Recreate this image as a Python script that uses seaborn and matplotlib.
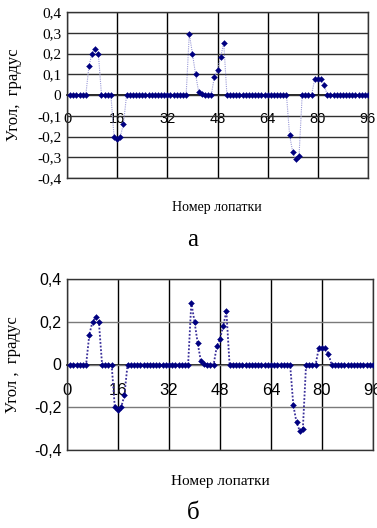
import matplotlib
matplotlib.use("Agg")
import matplotlib.pyplot as plt
import numpy as np
import pandas as pd
import seaborn as sns

# ---------------- data ----------------
blade = list(range(1, 97))  # blade numbers 1..96

angle_a = [
    0, 0, 0, 0, 0, 0, 0.14, 0.20, 0.22, 0.20, 0, 0, 0, 0, -0.20, -0.21,
    -0.20, -0.14, 0, 0, 0, 0, 0, 0, 0, 0, 0, 0, 0, 0, 0, 0,
    0, 0, 0, 0, 0, 0, 0.295, 0.20, 0.10, 0.015, 0.003, 0, 0, 0, 0.088, 0.12,
    0.183, 0.25, 0, 0, 0, 0, 0, 0, 0, 0, 0, 0, 0, 0, 0, 0,
    0, 0, 0, 0, 0, 0, -0.195, -0.275, -0.31, -0.295, 0, 0, 0, 0, 0.077, 0.077,
    0.077, 0.05, 0, 0, 0, 0, 0, 0, 0, 0, 0, 0, 0, 0, 0, 0,
]

angle_b = [
    0, 0, 0, 0, 0, 0, 0.14, 0.20, 0.22, 0.20, 0, 0, 0, 0, -0.20, -0.215,
    -0.20, -0.145, 0, 0, 0, 0, 0, 0, 0, 0, 0, 0, 0, 0, 0, 0,
    0, 0, 0, 0, 0, 0, 0.29, 0.20, 0.10, 0.015, 0.003, 0, 0, 0, 0.085, 0.12,
    0.18, 0.25, 0, 0, 0, 0, 0, 0, 0, 0, 0, 0, 0, 0, 0, 0,
    0, 0, 0, 0, 0, 0, -0.19, -0.27, -0.31, -0.30, 0, 0, 0, 0, 0.077, 0.077,
    0.077, 0.05, 0, 0, 0, 0, 0, 0, 0, 0, 0, 0, 0, 0, 0, 0,
]

x_ticks = [0, 16, 32, 48, 64, 80, 96]
x_labels = ["0", "16", "32", "48", "64", "80", "96"]

y_ticks_a = [-0.4, -0.3, -0.2, -0.1, 0, 0.1, 0.2, 0.3, 0.4]
y_labels_a = ["-0,4", "-0,3", "-0,2", "-0,1", "0", "0,1", "0,2", "0,3", "0,4"]
y_ticks_b = [-0.4, -0.2, 0, 0.2, 0.4]
y_labels_b = ["-0,4", "-0,2", "0", "0,2", "0,4"]

y_title_a = "Угол,  градус"
y_title_b = "Угол ,  градус"
x_title = "Номер лопатки"
panel_a = "а"
panel_b = "б"

# ---------------- style ----------------
sns.set_theme(style="white")
plt.rcParams["font.family"] = ["Liberation Serif", "DejaVu Serif"]

W, H = 377, 528
fig = plt.figure(figsize=(W / 100, H / 100), dpi=100)
fig.patch.set_facecolor("white")

ax1 = fig.add_axes([67 / W, 1 - 178 / H, 301 / W, 166 / H])
ax2 = fig.add_axes([67 / W, 1 - 450 / H, 306 / W, 171 / H])


def draw(ax, values, yticks, ylabels, line_color, line_w, hgrid_color,
         ytick_family, ytick_size, xtick_size, xpad, ylab):
    df = pd.DataFrame({"blade": blade, "angle": values})
    sns.lineplot(data=df, x="blade", y="angle", ax=ax, color=line_color,
                 linestyle=(0, (1, 1)), linewidth=line_w, zorder=3)
    sns.scatterplot(data=df, x="blade", y="angle", ax=ax, marker="D", s=9,
                    color="#000080", edgecolor="#000080", linewidth=0.3,
                    zorder=4)
    ax.set_xlim(0, 96)
    ax.set_ylim(-0.4, 0.4)
    ax.set_xticks(x_ticks)
    ax.set_xticklabels([])
    ax.tick_params(axis="x", length=0)
    ax.set_yticks(yticks)
    ax.set_yticklabels(ylabels, fontsize=ytick_size, family=ytick_family,
                       color="black")
    ax.tick_params(axis="y", length=0, pad=4)
    ax.set_xlabel("")
    ax.set_ylabel(ylab, fontsize=12, color="black", labelpad=0)
    ax.yaxis.set_label_coords(-0.15, 0.5)
    ax.grid(False)
    for yt in yticks:
        pass
    ax.yaxis.grid(True, color=hgrid_color, linewidth=1.0)
    ax.xaxis.grid(True, color="black", linewidth=1.0)
    ax.set_axisbelow(True)
    for sp in ax.spines.values():
        sp.set_color("#333333")
        sp.set_linewidth(1.0)
    sec = ax.secondary_xaxis(0, transform=ax.transData)
    sec.set_xticks(x_ticks, labels=x_labels)
    sec.tick_params(length=0, pad=xpad, labelsize=xtick_size)
    for lab in sec.get_xticklabels():
        lab.set_family(["Liberation Sans", "DejaVu Sans"])
        lab.set_color("black")
    sec.spines["bottom"].set_color("black")
    sec.spines["bottom"].set_linewidth(1.2)


draw(ax1, angle_a, y_ticks_a, y_labels_a, "#9a9ad8", 0.8, "#303030",
     ["Liberation Serif", "DejaVu Serif"], 11, 10.5, 12, y_title_a)
draw(ax2, angle_b, y_ticks_b, y_labels_b, "#3a2f9a", 1.3, "#7a7a7a",
     ["Liberation Sans", "DejaVu Sans"], 11.5, 12, 13.5, y_title_b)

fig.text(217 / W, 1 - 208 / H, x_title, ha="center", va="center",
         fontsize=10, color="black")
fig.text(220 / W, 1 - 481 / H, x_title, ha="center", va="center",
         fontsize=11, color="black")
fig.text(193 / W, 1 - 240 / H, panel_a, ha="center", va="center",
         fontsize=18, color="black")
fig.text(193 / W, 1 - 513 / H, panel_b, ha="center", va="center",
         fontsize=18, color="black")

fig.savefig("out.png", dpi=100, facecolor="white")
